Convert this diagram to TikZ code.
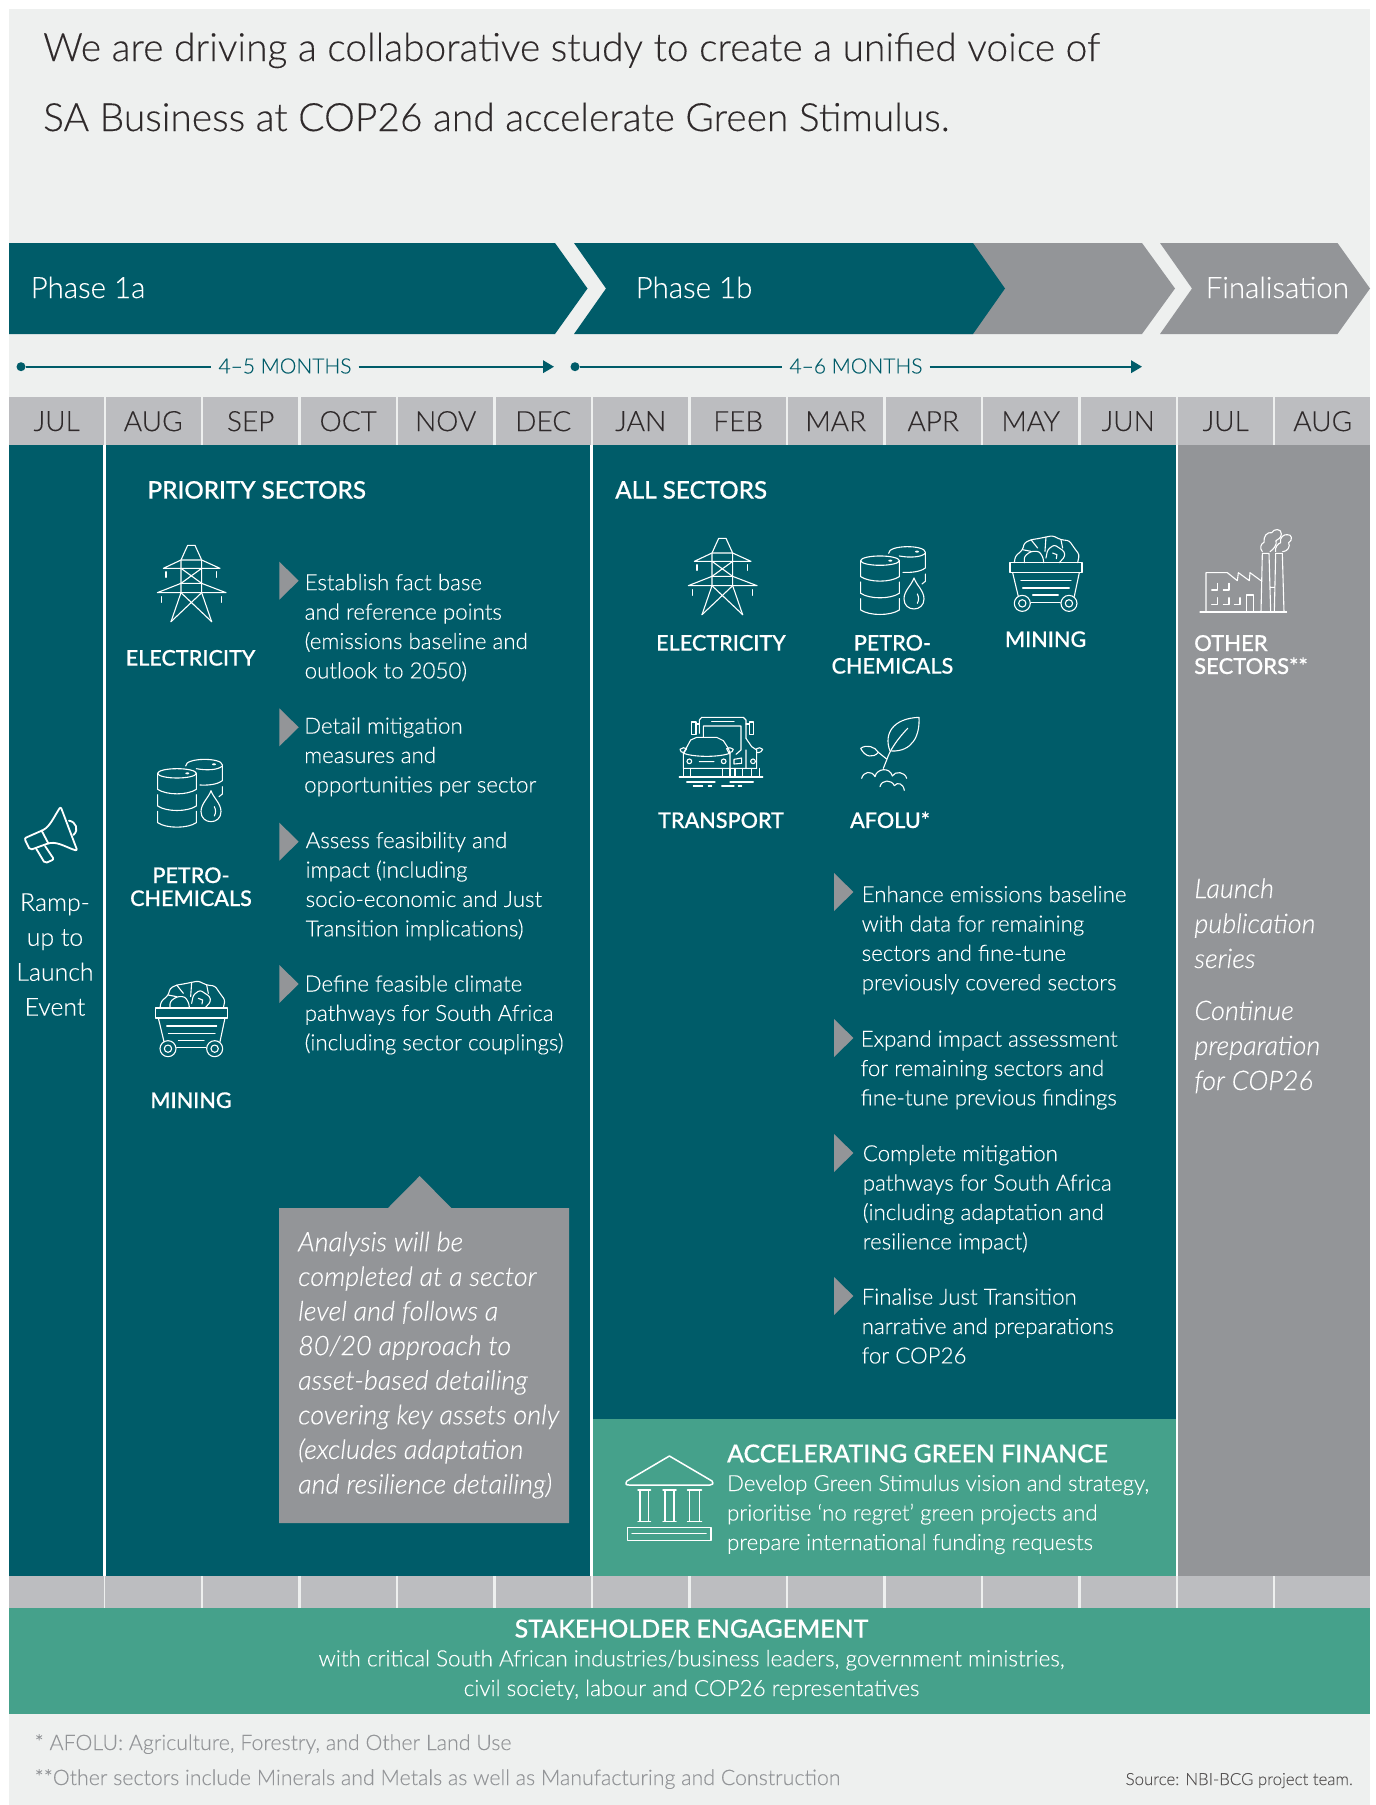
\documentclass[tikz,border=0pt]{standalone}
\usepackage{fontspec}
\setmainfont{Lato Light}[ItalicFont={Lato Light Italic},FakeBold=0.2]
\newfontfamily\hd{Lato Medium}[FakeBold=0.45]
\usetikzlibrary{arrows.meta}
\definecolor{teal}{HTML}{005C69}
\definecolor{greybg}{HTML}{EEF0EF}
\definecolor{strip}{HTML}{BCBDC0}
\definecolor{midgrey}{HTML}{939598}
\definecolor{greenbox}{HTML}{45A18B}
\definecolor{ink}{HTML}{2F2A2B}
\newcommand{\fsz}[2]{\fontsize{#1}{#2}\selectfont}
\tikzset{
  tx/.style={inner sep=0pt,anchor=base west,align=left},
  ctx/.style={inner sep=0pt,anchor=base,align=center},
  titletext/.style={tx,text=ink,font=\fsz{38.9}{70}},
  phasetext/.style={tx,text=white,font=\fsz{29.5}{30}},
  monthcell/.style={inner sep=0pt,minimum width=95pt,minimum height=48pt,fill=strip,text=ink,font=\fsz{28}{28},anchor=north west},
  durtext/.style={inner sep=7pt,text=teal,font=\fsz{21}{24}},
  dur/.style={teal,line width=2pt},
  durdot/.style={circle,fill=teal,inner sep=0pt,minimum size=9pt},
  bodyw/.style={tx,text=white,font=\fsz{22.3}{29.4}},
  headw/.style={tx,text=white,font={\hd\fsz{24.2}{23}}},
  headc/.style={ctx,text=white,font={\hd\fsz{21.6}{23}}},
  itw/.style={tx,text=white,font={\itshape\fsz{27}{34.6}}},
  itg/.style={tx,text=white,font={\itshape\fsz{27}{35}}},
  footg/.style={tx,text=midgrey,font=\fsz{21.35}{35}},
  chev/.style={midgrey},
  icon/.style={draw=white,line width=1.1pt,line cap=round,line join=round},
  pylonicon/.pic={
    \draw[icon] (213,305) -- (243,218) -- (243,120) -- (263,76) -- (285,76) -- (305,120) -- (305,218) -- (335,305);
    \draw[icon] (243,120) -- (305,120) (243,120) -- (190,145) -- (360,145) -- (305,120);
    \draw[icon] (243,190) -- (305,190) (243,190) -- (172,218) -- (378,218) -- (305,190);
    \draw[icon] (243,145) -- (305,190) (305,145) -- (243,190);
    \draw[icon] (243,218) -- (335,305) (305,218) -- (213,305);
    \draw[icon] (198,155) -- (198,172) (350,155) -- (350,172) (184,230) -- (184,247) (365,230) -- (365,247);
  },
  barrelicon/.pic={
    \draw[icon] (231,760) ellipse [x radius=58,y radius=14];
    \draw[icon] (173,760) -- (173,808) .. controls (200,826) and (262,826) .. (289,808) -- (289,760);
    \draw[icon] (173,824) -- (173,858) .. controls (200,876) and (262,876) .. (289,858) -- (289,824);
    \draw[icon] (173,874) -- (173,908) .. controls (200,926) and (262,926) .. (289,908) -- (289,874);
    \draw[icon] (257,738) .. controls (255,712) and (367,712) .. (367,735) -- (367,782) .. controls (350,795) and (320,796) .. (300,795);
    \draw[icon] (289,746) .. controls (320,752) and (355,750) .. (367,738);
    \draw[icon] (367,800) -- (367,822) -- (357,830);
    \draw[icon] (333,812) .. controls (325,835) and (303,850) .. (303,875) .. controls (303,915) and (363,915) .. (363,875) .. controls (363,850) and (341,835) .. (333,812) -- cycle;
    \draw[icon] (343,860) .. controls (348,870) and (348,878) .. (343,888);
    \fill[white] (262,760) ellipse [x radius=6,y radius=3];
    \fill[white] (342,733) ellipse [x radius=6,y radius=3];
  },
  carticon/.pic={
    \draw[icon] (467,684) rectangle (683,714);
    \draw[icon] (475,714) -- (492,785) (675,714) -- (660,785);
    \draw[icon] (500,738) -- (650,738) (505,760) -- (645,760) (535,781) -- (612,781) (530,803) -- (618,803);
    \draw[icon] (504,806) circle [radius=24] (504,806) circle [radius=11];
    \draw[icon] (644,806) circle [radius=24] (644,806) circle [radius=11];
    \draw[icon,rounded corners=2.5pt] (480,684) -- (483,665) -- (505,645) -- (510,625) -- (530,615) -- (550,612) -- (575,607) -- (595,603) -- (620,615) -- (645,618) -- (660,640) -- (675,660) -- (670,684);
    \draw[icon,rounded corners=2.5pt] (510,684) -- (510,665) -- (530,650) -- (555,650) -- (567,670) -- (568,684);
    \draw[icon,rounded corners=2.5pt] (575,670) -- (580,645) -- (600,630) -- (630,650) -- (632,665) -- (615,684);
    \draw[icon] (505,645) -- (530,650) (530,615) -- (550,640) (575,607) -- (572,650) (620,615) -- (625,640) (595,655) -- (608,660) -- (606,672);
  },
  truckicon/.pic={
    \draw[icon] (118,640) -- (118,600) -- (125,592) -- (250,592) -- (258,600) -- (258,655);
    \draw[icon] (95,606) rectangle (108,643) (268,606) rectangle (280,643);
    \draw[icon] (108,612) -- (118,612) (258,612) -- (268,612) (155,605) -- (222,605);
    \draw[icon] (130,650) -- (130,618) -- (243,618) -- (243,690) -- (228,703);
    \draw[icon] (80,682) -- (92,660) -- (110,652) -- (170,652) -- (190,662) -- (205,685);
    \draw[icon] (70,700) -- (70,745) -- (290,745) -- (290,690) -- (275,680) -- (258,655);
    \draw[icon] (70,700) .. controls (105,712) and (175,712) .. (210,700) -- (210,745);
    \draw[icon] (70,700) -- (80,682) (210,700) -- (205,685) (258,690) -- (258,745);
    \draw[icon] (60,688) .. controls (65,682) and (75,682) .. (80,686) -- (72,698) .. controls (65,698) and (60,694) .. (60,688);
    \draw[icon] (220,688) .. controls (215,682) and (205,682) .. (200,686) -- (206,698) .. controls (214,698) and (220,694) .. (220,688);
    \draw[icon] (308,688) .. controls (303,682) and (295,682) .. (290,686) -- (290,698) .. controls (300,698) and (308,694) .. (308,688);
    \draw[icon] (88,724) circle [radius=7] (191,724) circle [radius=7] (279,724) circle [radius=7] (118,725) -- (162,725);
    \draw[icon] (222,718) -- (245,714) -- (245,730) -- (222,732) -- cycle;
    \draw[icon] (70,745) -- (70,770) (92,745) -- (92,770) (188,745) -- (188,770) (210,745) -- (210,770) (225,745) -- (225,770) (248,745) -- (248,770) (275,745) -- (275,770) (298,745) -- (298,770);
    \draw[icon,line width=1.5pt] (58,771) -- (308,771);
    \draw[icon] (80,786) -- (165,786) (210,786) -- (280,786) (100,798) -- (128,798) (145,798) -- (155,798) (185,798) -- (222,798) (235,798) -- (245,798);
  },
  sprouticon/.pic={
    \draw[icon] (690,693) .. controls (670,640) and (700,595) .. (777,592) .. controls (780,650) and (755,695) .. (695,693);
    \draw[icon] (743,625) .. controls (710,660) and (690,690) .. (680,720) -- (670,745);
    \draw[icon] (602,685) .. controls (620,672) and (645,680) .. (655,697) .. controls (640,715) and (615,712) .. (602,685);
    \draw[icon] (655,697) -- (680,717);
    \draw[icon] (605,775) .. controls (610,755) and (635,750) .. (645,770) .. controls (650,745) and (690,740) .. (697,768) .. controls (705,752) and (735,755) .. (740,775);
    \draw[icon] (660,800) .. controls (665,778) and (695,778) .. (703,797) .. controls (712,785) and (730,790) .. (733,811);
  },
  factoryicon/.pic={
    \draw[icon] (60,306) -- (320,306);
    \draw[icon] (78,306) -- (78,188) -- (142,188) -- (172,212) -- (175,188) -- (208,212) -- (210,188) -- (243,212);
    \draw[icon] (200,306) -- (200,255) -- (220,255) -- (220,306);
    \draw[icon] (95,240) -- (112,240) -- (112,220) (130,240) -- (147,240) -- (147,220);
    \draw[icon] (95,283) -- (112,283) -- (112,263) (130,283) -- (147,283) -- (147,263) (163,283) -- (180,283) -- (180,263);
    \draw[icon] (243,306) -- (247,130) -- (267,130) -- (272,306) (283,306) -- (287,130) -- (307,130) -- (312,306) (272,232) -- (283,232);
    \draw[icon] (247,125) .. controls (238,115) and (243,100) .. (252,97) .. controls (250,78) and (262,65) .. (275,68) .. controls (282,55) and (305,55) .. (304,72) .. controls (304,85) and (292,88) .. (288,92) .. controls (292,105) and (280,118) .. (270,125);
    \draw[icon] (287,125) .. controls (283,112) and (295,100) .. (302,98) .. controls (298,82) and (312,72) .. (322,74) .. controls (335,72) and (340,90) .. (326,98) .. controls (332,110) and (322,125) .. (308,125);
  },
  hornicon/.pic={
    \draw[icon,line width=1.8pt,rounded corners=2pt] (125,152) .. controls (150,140) and (165,105) .. (182,80) -- (232,212) .. controls (205,205) and (175,185) .. (145,190) -- (90,210) -- (73,175) -- cycle;
    \draw[icon,line width=1.8pt] (125,152) -- (145,190);
    \draw[icon,line width=1.8pt] (207,122) .. controls (228,125) and (238,150) .. (220,165);
    \draw[icon,line width=1.8pt,rounded corners=2pt] (108,205) -- (135,250) -- (162,238) -- (135,198);
  },
}
\begin{document}
\begin{tikzpicture}[x=1pt,y=-1pt]
\useasboundingbox (0,0) rectangle (1376,1805);
\fill[white] (0,0) rectangle (1376,1805);
\fill[greybg] (9,9) rectangle (1370,1805);
% title
\node[titletext] (title) at (43,131) {We are driving a collaborative study to create a unified voice of\\SA Business at COP26 and accelerate Green Stimulus.};
% phase bands
\fill[midgrey] (950,243) -- (1142,243) -- (1175,288.5) -- (1142,334) -- (950,334) -- cycle;
\fill[teal] (574,243) -- (973,243) -- (1005,288.5) -- (973,334) -- (574,334) -- (606,288.5) -- cycle;
\fill[teal] (9,243) -- (555,243) -- (587.5,288.5) -- (555,334) -- (9,334) -- cycle;
\fill[midgrey] (1160,243) -- (1337.5,243) -- (1370,288.5) -- (1337.5,334) -- (1160,334) -- (1192,288.5) -- cycle;
\node[phasetext] (pa) at (30.5,298) {Phase 1a};
\node[phasetext] (pb) at (635.5,298) {Phase 1b};
\node[phasetext] (pf) at (1205.5,298) {Finalisation};
% durations
\node[durdot] (d1) at (21,366.7) {};
\node[durtext] (t1) at (285,366) {4–5 MONTHS};
\coordinate (a1) at (554,366.7);
\draw[dur] (d1) -- (d1-|t1.west);
\draw[dur,-{Triangle[length=11pt,width=12.5pt]}] (a1-|t1.east) -- (a1);
\node[durdot] (d2) at (575,366.7) {};
\node[durtext] (t2) at (856,366) {4–6 MONTHS};
\coordinate (a2) at (1142,366.7);
\draw[dur] (d2) -- (d2-|t2.west);
\draw[dur,-{Triangle[length=11pt,width=12.5pt]}] (a2-|t2.east) -- (a2);
% month cells
\foreach \x/\m [count=\i] in {9/JUL,105.5/AUG,203/SEP,300.5/OCT,398/NOV,495.5/DEC,593/JAN,690.5/FEB,788/MAR,885.5/APR,983/MAY,1080.5/JUN,1178/JUL,1275/AUG}{
  \node[monthcell] (m\i) at (\x,397) {\m};
}
\fill[strip] (9,1576) rectangle (1370,1608);
\foreach \x/\w in {104.5/1.6,202/2.4,299.5/2.4,397/2.4,494.5/2.4,591.5/2,689.5/2.4,787/2.4,884.5/2.4,982/2.4,1079.5/2.4,1176.7/2,1274/2}{
  \draw[greybg,line width=\w pt] (\x,1576) -- (\x,1608);
}
% main panels
\fill[teal] (9,445) rectangle (1176.7,1576);
\fill[midgrey] (1176.7,445) rectangle (1370,1576);
\fill[greenbox] (592,1419) rectangle (1176.7,1576);
\draw[white,line width=2.2pt] (104.5,445) -- (104.5,1576);
\draw[white,line width=2.2pt] (591.5,445) -- (591.5,1576);
\draw[white,line width=2.4pt] (1176.7,445) -- (1176.7,1576);
% left column
\pic[scale=1/3] at (0,780) {hornicon};
\node[ctx,text=white,font=\fsz{24.8}{34.9}] (ramp) at (55,1015.6) {Ramp-\\up to\\Launch\\Event};
\node[headw] (ps) at (147.4,498.6) {PRIORITY SECTORS};
\pic[scale=1/3] at (100,520) {pylonicon};
\node[headc] (e1) at (190.6,665.6) {ELECTRICITY};
\pic[scale=1/3] at (100,520) {barrelicon};
\node[headc] (pc1) at (191,906) {PETRO-\\CHEMICALS};
\pic[scale=1/3] at (0,780) {carticon};
\node[headc] (mi1) at (191,1108) {MINING};
\foreach \y in {561.7,708.3,822.7,965}{\fill[chev] (279.3,\y) -- (298.7,\y+19) -- (279.3,\y+38) -- cycle;}
\node[bodyw] (b1) at (304.5,678.4) {Establish fact base\\and reference points\\(emissions baseline and\\outlook to 2050)};
\node[bodyw] (b2) at (304,792.4) {Detail mitigation\\measures and\\opportunities per sector};
\node[bodyw] (b3) at (305.5,936.3) {Assess feasibility and\\impact (including\\socio-economic and Just\\Transition implications)};
\node[bodyw] (b4) at (304.5,1050.3) {Define feasible climate\\pathways for South Africa\\(including sector couplings)};
% callout
\fill[midgrey] (279,1208) -- (388,1208) -- (419.7,1176) -- (451.3,1208) -- (569,1208) -- (569,1523) -- (279,1523) -- cycle;
\node[itw] (call) at (298,1493.5) {Analysis will be\\completed at a sector\\level and follows a\\80/20 approach to\\asset-based detailing\\covering key assets only\\(excludes adaptation\\and resilience detailing)};
% middle
\node[headw] (as) at (615,498.6) {ALL SECTORS};
\pic[scale=1/3] at (631,513) {pylonicon};
\node[headc] (e2) at (721,650.6) {ELECTRICITY};
\pic[scale=1/3] at (803,307.3) {barrelicon};
\node[headc] (pc2) at (892.4,673.6) {PETRO-\\CHEMICALS};
\pic[scale=1/3] at (854.3,334.7) {carticon};
\node[headc] (mi2) at (1045.6,647) {MINING};
\pic[scale=1/3] at (660,520) {truckicon};
\node[headc] (tr) at (721,828) {TRANSPORT};
\pic[scale=1/3] at (660,520) {sprouticon};
\node[headc] (af) at (890,828) {AFOLU*};
\foreach \y in {873,1019,1134,1277}{\fill[chev] (834,\y) -- (853.4,\y+19) -- (834,\y+38) -- cycle;}
\node[bodyw] (c1) at (861.5,990.3) {Enhance emissions baseline\\with data for remaining\\sectors and fine-tune\\previously covered sectors};
\node[bodyw] (c2) at (860.5,1105.4) {Expand impact assessment\\for remaining sectors and\\fine-tune previous findings};
\node[bodyw] (c3) at (862.6,1249.4) {Complete mitigation\\pathways for South Africa\\(including adaptation and\\resilience impact)};
\node[bodyw] (c4) at (861.5,1363.4) {Finalise Just Transition\\narrative and preparations\\for COP26};
% finance
\draw[icon,line width=1.5pt] (669.4,1456) -- (712,1481) .. controls (714,1484) and (712,1485) .. (710,1485) -- (629,1485) .. controls (626,1485) and (625,1484) .. (627,1481) -- cycle;
\foreach \a/\b in {638/650.5,663/676,687.5/701.5}{
  \draw[icon,line width=1.5pt] (\a,1490) -- (\b,1490) (\a+2,1490) -- (\a+2,1521) (\b-2,1490) -- (\b-2,1521) (\a,1521.7) -- (\b,1521.7);
}
\draw[icon,line width=1.5pt] (627.5,1527.5) rectangle (711,1540.5);
\draw[icon,line width=1.5pt] (632,1533.5) -- (706,1533.5);
\node[tx,text=white,font={\hd\fsz{24.8}{26}}] (gf) at (726.9,1462.4) {ACCELERATING GREEN FINANCE};
\node[tx,text=white,font=\fsz{22.25}{29.5}] (gb) at (726.9,1550) {Develop Green Stimulus vision and strategy,\\prioritise ‘no regret’ green projects and\\prepare international funding requests};
% grey panel
\pic[scale=1/3] at (1180,510) {factoryicon};
\node[tx,text=white,font={\hd\fsz{22}{23}}] (os) at (1194,674) {OTHER\\SECTORS**};
\node[itg] (lp) at (1194.2,968) {Launch\\publication\\series};
\node[itg] (cp) at (1194.2,1090) {Continue\\preparation\\for COP26};
% stakeholder
\fill[greenbox] (9,1608) rectangle (1370,1714);
\node[ctx,text=white,font={\hd\fsz{24.9}{26}}] (sh) at (691.5,1637.5) {STAKEHOLDER ENGAGEMENT};
\node[ctx,text=white,font=\fsz{22.45}{29.7}] (shb) at (691.5,1696) {with critical South African industries/business leaders, government ministries,\\civil society, labour and COP26 representatives};
% footnotes
\node[footg] (fn) at (34.5,1785) {* AFOLU: Agriculture, Forestry, and Other Land Use\\**Other sectors include Minerals and Metals as well as Manufacturing and Construction};
\node[inner sep=0pt,anchor=base east,text=ink!80,font=\fsz{16.8}{18}] (src) at (1353,1785) {Source: NBI-BCG project team.};
\end{tikzpicture}
\end{document}
